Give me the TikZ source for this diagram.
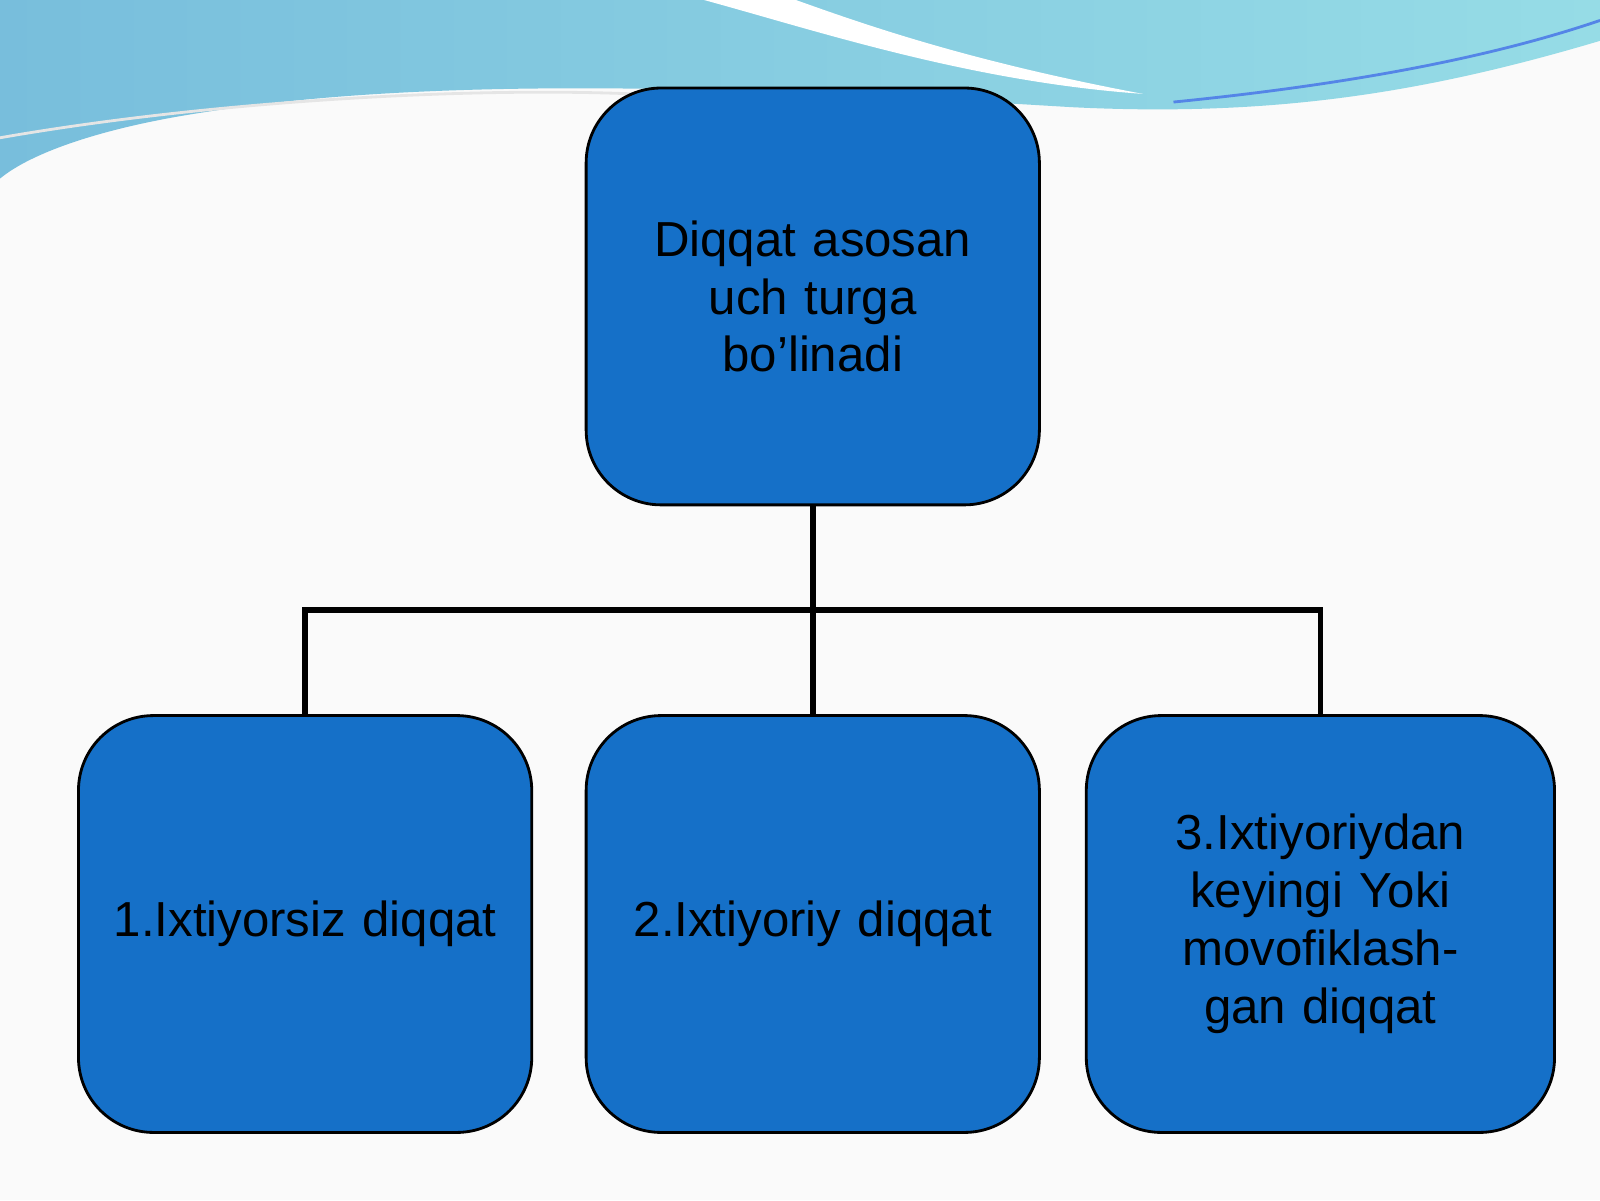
\documentclass[tikz,border=0pt]{standalone}
\usepackage{fontspec}
\setmainfont{Liberation Sans}
\usetikzlibrary{positioning}
\definecolor{boxblue}{RGB}{21,112,200}
\definecolor{waveA}{RGB}{120,190,220}
\definecolor{waveB}{RGB}{150,220,230}
\tikzset{
  box/.style={draw=black, line width=0.8pt, fill=boxblue, rounded corners=0.75cm,
    minimum width=4.34cm, minimum height=4.17cm, text width=4.3cm, align=center,
    font=\fontsize{14}{16.5}\selectfont},
  link/.style={draw=black, line width=1.6pt}
}
\begin{document}
\begin{tikzpicture}[x=0.01020408cm, y=-0.01020408cm]
    \useasboundingbox (0,0) rectangle (1568,1176);
    \fill[white!96!gray] (0,0) rectangle (1568,1176);

    % top wave
    \shade[left color=waveA, right color=waveB] (0,0) -- (1568,0) -- (1568,40)
        .. controls (1400,90) and (1250,115) .. (1050,105)
        .. controls (800,90) and (450,70) .. (200,110)
        .. controls (100,125) and (30,150) .. (0,175) -- cycle;
    \fill[white] (690,0) .. controls (800,30) and (950,80) .. (1120,92)
        .. controls (950,60) and (850,25) .. (780,0) -- cycle;
    \draw[white!80!gray, line width=0.8pt] (0,135) .. controls (200,100) and (450,85) .. (620,92);
    \draw[waveA!70!blue, line width=0.8pt] (1150,100) .. controls (1350,80) and (1480,50) .. (1568,20);

    \node[box] (top) at (796.5,290.5) {Diqqat asosan\\ uch turga\\ bo’linadi};
    \node[box] (left) at (299,905.5) {1.Ixtiyorsiz diqqat};
    \node[box] (mid) at (796.5,905.5) {2.Ixtiyoriy diqqat};
    \node[box, text width=4.45cm] (right) at (1294,905.5) {3.Ixtiyoriydan keyingi Yoki movofiklashgan diqqat};

    \coordinate (split) at (796.5,598);
    \draw[link] (top.south) -- (mid.north);
    \draw[link] (left.north) |- (split) -| (right.north);
\end{tikzpicture}
\end{document}
